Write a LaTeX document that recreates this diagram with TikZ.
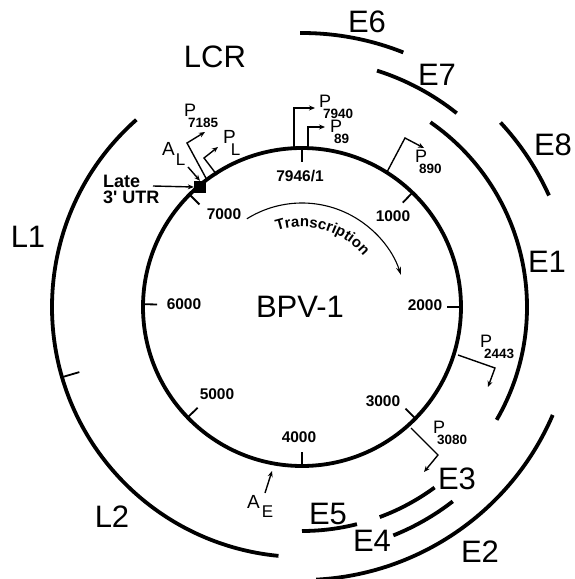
\documentclass[tikz,border=0pt]{standalone}
\usepackage{fontspec}
\setmainfont{Liberation Sans}
\usetikzlibrary{arrows.meta,decorations.text}
\newcommand{\fs}[1]{\fontsize{#1}{#1}\selectfont}
\newcommand{\plab}[1]{{\fs{18}P}\kern-8pt\raisebox{-11pt}{\fs{13.5}\bfseries #1}}
\newcommand{\llab}[4]{{\fs{19}#1}\kern#3\raisebox{#4}{\fs{17}#2}}
\begin{document}
\begin{tikzpicture}[x=1pt,y=1pt,
  thickl/.style={line width=3.8pt},
  tickl/.style={line width=1.8pt},
  prom/.style={line width=1.4pt,-{Stealth[length=6pt,width=5pt]}},
  big/.style={font=\fs{31},inner sep=0pt},
  num/.style={font=\fs{15.5}\bfseries,inner sep=0pt},
  sub/.style={anchor=base west,inner sep=0pt}]
\useasboundingbox (-302,-272) rectangle (272,307);
\coordinate (C) at (0,0);
% genome circle
\draw[thickl] (C) circle[radius=159];
% ticks
\foreach \a in {90,46,0,-44.5,-90,-136,179,135}
  \draw[tickl] (\a:159) -- (\a:145);
% outer ORF arcs
\draw[thickl] (131.5:250) arc[start angle=131.5,end angle=264.6,radius=250];
\draw[tickl] (196.3:250) -- (196.3:232);
\draw[thickl] (68.3:274) arc[start angle=68.3,end angle=90.4,radius=274];
\draw[thickl] (51.4:248) arc[start angle=51.4,end angle=72.4,radius=248];
\draw[thickl] (24.3:271) arc[start angle=24.3,end angle=42.9,radius=271];
\draw[thickl] (-30.1:225) arc[start angle=-30.1,end angle=55.2,radius=225];
\draw[thickl] (-87:273) arc[start angle=-87,end angle=-23.3,radius=273];
\draw[thickl] (-69.7:224) arc[start angle=-69.7,end angle=-53.7,radius=224];
\draw[thickl] (-68.2:246) arc[start angle=-68.2,end angle=-52.2,radius=246];
\draw[thickl] (-90:224) arc[start angle=-90,end angle=-75.8,radius=224];
% big labels
\node[big] (lcr) at (-87,250) {LCR};
\node[big] (e6) at (65,285) {E6};
\node[big] (e7) at (135,232) {E7};
\node[big] (e8) at (251,162) {E8};
\node[big] (e1) at (245,45) {E1};
\node[big] (l1) at (-274,70) {L1};
\node[big] (l2) at (-190,-210) {L2};
\node[big] (e3) at (155,-172) {E3};
\node[big] (e5) at (26,-207) {E5};
\node[big] (e4) at (70,-234) {E4};
\node[big] (e2) at (178,-245) {E2};
\node[big] (bpv) at (-2,0) {BPV-1};
% numbers
\node[num] (n7946) at (-2,131) {7946/1};
\node[num] (n1000) at (91,91) {1000};
\node[num] (n2000) at (123,2) {2000};
\node[num] (n3000) at (81,-94) {3000};
\node[num] (n4000) at (-3,-130) {4000};
\node[num] (n5000) at (-85,-87) {5000};
\node[num] (n6000) at (-118,3) {6000};
\node[num] (n7000) at (-78,93) {7000};
% transcription
\draw[line width=1.1pt,-{Stealth[length=8pt,width=5pt]}] (122:104) arc[start angle=122,end angle=18,radius=104];
\path[decorate,decoration={text along path,text={|\fs{15}\bfseries|Transcription},text align=center}]
  (109:80) arc[start angle=109,end angle=39,radius=80];
% late 3' UTR
\node[fill=black,minimum size=12pt,inner sep=0pt] (utr) at (-102,120) {};
\node[align=left,anchor=west,inner sep=0pt,font=\fontsize{18}{16}\selectfont\bfseries] (late) at (-199,118) {Late\\3\textquotesingle{} UTR};
\coordinate (lateA) at (-149,121);
\draw[line width=1.4pt,-{Stealth[length=6pt,width=5pt]}] (lateA) -- (utr.west);
% A_L
\node[sub] (al) at (-140,152) {\llab{A}{L}{1pt}{-10pt}};
\coordinate (alA) at (-114,140);
\draw[line width=1.4pt,-{Stealth[length=6pt,width=5pt]}] (alA) -- (utr.north);
% promoters
\coordinate (s7185) at (-95,127); \coordinate (k7185) at (-115,164); \coordinate (e7185) at (-97,175);
\draw[prom] (s7185) -- (k7185) -- (e7185);
\node[sub] (p7185) at (-118,190) {\plab{7185}};
\coordinate (sPL) at (-85,132); \coordinate (kPL) at (-98,149); \coordinate (ePL) at (-84,160);
\draw[prom] (sPL) -- (kPL) -- (ePL);
\node[sub] (pl) at (-79,164) {\llab{P}{L}{-5pt}{-12pt}};
\coordinate (s7940) at (-8,159); \coordinate (k7940) at (-8,199); \coordinate (e7940) at (13,199);
\draw[prom] (s7940) -- (k7940) -- (e7940);
\node[sub] (p7940) at (17,200) {\plab{7940}};
\coordinate (s89) at (6,159); \coordinate (k89) at (6,180); \coordinate (e89) at (23,180);
\draw[prom] (s89) -- (k89) -- (e89);
\node[sub] (p89) at (28,175) {\plab{89}};
\coordinate (s890) at (85,135); \coordinate (k890) at (103,169); \coordinate (e890) at (122,159);
\draw[prom] (s890) -- (k890) -- (e890);
\node[sub] (p890) at (113,145) {\plab{890}};
\coordinate (s2443) at (156,-48); \coordinate (k2443) at (193,-61); \coordinate (e2443) at (186,-80);
\draw[prom] (s2443) -- (k2443) -- (e2443);
\node[sub] (p2443) at (178,-40) {\plab{2443}};
\coordinate (s3080) at (109,-121); \coordinate (k3080) at (136,-148); \coordinate (e3080) at (122,-165);
\draw[prom] (s3080) -- (k3080) -- (e3080);
\node[sub] (p3080) at (131,-126) {\plab{3080}};
% A_E
\coordinate (aeS) at (-37,-186); \coordinate (aeT) at (-30,-164);
\draw[line width=1.4pt,-{Stealth[length=6pt,width=5pt]}] (aeS) -- (aeT);
\node[sub] (ae) at (-55,-201) {\llab{A}{E}{2pt}{-9pt}};
\end{tikzpicture}
\end{document}
